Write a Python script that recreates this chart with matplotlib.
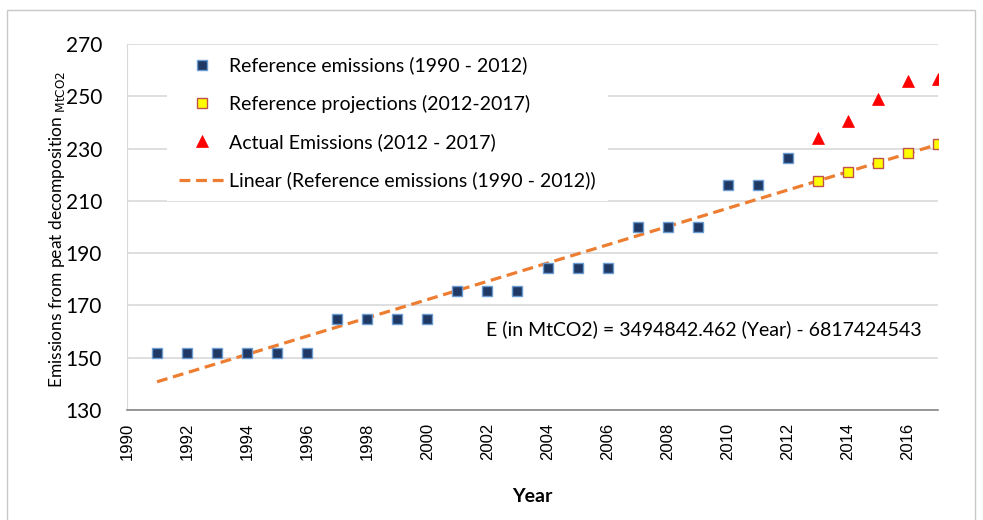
import matplotlib.pyplot as plt
import numpy as np

# Reference emissions (MtCO2)
ref_years = list(range(1991, 2013))
ref_values = [152, 152, 152, 152, 152, 152,
              165, 165, 165, 165,
              175.4, 175.4, 175.4,
              184.4, 184.4, 184.4,
              200, 200, 200,
              216.2, 216.2, 226.3]

# Projections along the linear fit
proj_years = [2013, 2014, 2015, 2016, 2017]
proj_values = [217.7, 221.2, 224.7, 228.2, 231.7]

# Actual emissions after 2012
actual_years = [2013, 2014, 2015, 2016, 2017]
actual_values = [234.2, 240.5, 249.0, 255.9, 256.6]

# Linear trend: E (t) = slope * Year - intercept
slope = 3494842.462
intercept = 6817424543
trend_years = [1991, 2017]

font = 'Lato'

fig = plt.figure(figsize=(9.83, 5.2), dpi=100)
ax = fig.add_axes([0.1292, 0.2115, 0.8250, 0.7035])

trend_vals = [(slope * y - intercept) / 1e6 for y in trend_years]
ax.plot(trend_years, trend_vals, color='#ED7D31', lw=2.3, ls=(0, (3.4, 1.8)),
        label='Linear (Reference emissions (1990 - 2012))', zorder=2)
ax.plot(ref_years, ref_values, ls='none', marker='s', ms=7.5, mfc='#1F3864',
        mec='#6A9BD1', mew=1.0, label='Reference emissions (1990 - 2012)', zorder=3)
ax.plot(proj_years, proj_values, ls='none', marker='s', ms=7.5, mfc='#FFFF00',
        mec='#C0504D', mew=1.0, label='Reference projections (2012-2017)', zorder=4)
ax.plot(actual_years, actual_values, ls='none', marker='^', ms=8.5, mfc='#FF0000',
        mec='#FF0000', mew=0.5, label='Actual Emissions (2012 - 2017)', zorder=3)

ax.set_xlim(1990, 2017)
ax.set_ylim(130, 270)
ax.set_yticks(np.arange(130, 271, 20))
ax.set_xticks(np.arange(1990, 2017, 2))
ax.grid(axis='y', color='#D9D9D9', lw=1.2, zorder=0)
ax.set_axisbelow(True)
ax.tick_params(length=0)
for lbl in ax.get_yticklabels():
    lbl.set_fontfamily(font)
    lbl.set_fontsize(15)
for lbl in ax.get_xticklabels():
    lbl.set_fontfamily('Liberation Sans')
    lbl.set_fontsize(12)
    lbl.set_rotation(90)
ax.tick_params(axis='y', pad=18)
ax.tick_params(axis='x', pad=9)

for side in ['top', 'right']:
    ax.spines[side].set_visible(False)
ax.spines['left'].set_color('#D9D9D9')
ax.spines['bottom'].set_color('#888888')
ax.spines['bottom'].set_linewidth(1.2)

handles, labels = ax.get_legend_handles_labels()
order = [1, 2, 3, 0]
leg = ax.legend([handles[i] for i in order], [labels[i] for i in order],
                loc='upper left', bbox_to_anchor=(0.035, 1.03), frameon=True,
                framealpha=1, edgecolor='none', fancybox=False,
                prop={'family': font, 'size': 14}, labelspacing=1.05,
                handlelength=2.4, handletextpad=0.2, borderpad=0.6,
                borderaxespad=0.6)
leg.set_zorder(5)

ax.text(2009.2, 161, 'E (in MtCO2) = 3494842.462 (Year) - 6817424543',
        ha='center', va='center', fontfamily=font, fontsize=14)

ax.set_xlabel('Year', fontfamily=font, fontsize=14, fontweight='bold', labelpad=20)
fig.text(0.058, 0.56, 'Emissions from peat decomposition $_{\\mathrm{MtCO2}}$',
         rotation=90, ha='center', va='center', fontfamily=font, fontsize=12.5)

# outer frame
fig.patches.append(plt.Rectangle((0.007, -0.05), 0.985, 1.03, transform=fig.transFigure,
                                 fill=False, edgecolor='#C8C8C8', lw=1))

fig.savefig('out.png', dpi=100)
